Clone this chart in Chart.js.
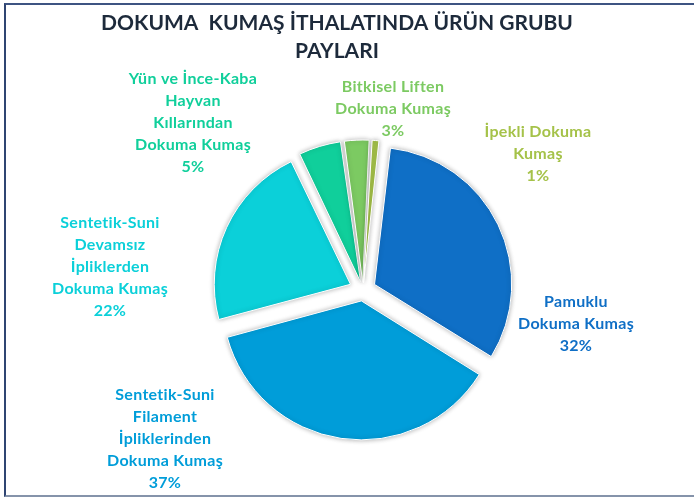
<!DOCTYPE html>
<html>
<head>
<meta charset="utf-8">
<script src="https://cdn.jsdelivr.net/npm/chart.js@4.4.1/dist/chart.umd.min.js"></script>
<style>
  html, body { margin: 0; padding: 0; background: #fff; }
  body { width: 694px; height: 497px; position: relative; overflow: hidden; }
  .frame {
    position: absolute; left: 4px; top: 3px; width: 720px; height: 490px;
    border-left: 2px solid #2f4572; border-top: 2px solid #3d5482; border-bottom: 2px solid #8593aa;
  }
  .chart-box { position: absolute; left: 0; top: 0; width: 694px; height: 497px; }
</style>
</head>
<body>
<div class="chart-box"><canvas class="share-chart"></canvas></div>
<div class="frame"></div>
<script>
const titleLines = ['DOKUMA  KUMAŞ İTHALATINDA ÜRÜN GRUBU', 'PAYLARI'];
const categories = [
    ['Pamuklu', 'Dokuma Kumaş'],
    ['Sentetik-Suni', 'Filament', 'İpliklerinden', 'Dokuma Kumaş'],
    ['Sentetik-Suni', 'Devamsız', 'İpliklerden', 'Dokuma Kumaş'],
    ['Yün ve İnce-Kaba', 'Hayvan', 'Kıllarından', 'Dokuma Kumaş'],
    ['Bitkisel Liften', 'Dokuma Kumaş'],
    ['İpekli Dokuma', 'Kumaş'],
];
const shares = [32, 37, 22, 5, 3, 1];
const colors = ['#0f6fc6', '#009dd9', '#0bd0d9', '#10cf9b', '#7cca62', '#a5c249'];

// label block centres, relative to the pie centre
const labelDx = [213, -198, -253, -170, 30, 175];
const labelDy = [34, 149, -23, -167, -181, -136];
const EXPLODE = 14;

const total = shares.reduce((a, b) => a + b, 0);

// title is not centred over the pie in the original, so draw it here
const chartTitle = {
    id: 'chartTitle',
    afterDraw(chart) {
        const ctx = chart.ctx;
        ctx.save();
        ctx.font = 'bold 21px Lato';
        ctx.fillStyle = '#1d2a3b';
        ctx.textAlign = 'center';
        ctx.textBaseline = 'middle';
        titleLines.forEach((line, k) => ctx.fillText(line, 337, 23 + k * 28));
        ctx.restore();
    }
};

const sliceLabels = {
    id: 'sliceLabels',
    afterDatasetsDraw(chart) {
        const ctx = chart.ctx;
        const arcs = chart.getDatasetMeta(0).data;
        ctx.save();
        ctx.font = 'bold 16px Lato';
        ctx.letterSpacing = '0.3px';
        ctx.textAlign = 'center';
        ctx.textBaseline = 'middle';
        arcs.forEach((arc, i) => {
            const lines = categories[i].concat([shares[i] + '%']);
            const lh = 22;
            ctx.fillStyle = colors[i];
            lines.forEach((line, k) => {
                const y = arc.y + labelDy[i] + (k - (lines.length - 1) / 2) * lh;
                ctx.fillText(line, arc.x + labelDx[i], y);
            });
        });
        ctx.restore();
    }
};

const sliceShadow = {
    id: 'sliceShadow',
    beforeDatasetsDraw(chart) {
        const ctx = chart.ctx;
        ctx.save();
        ctx.shadowColor = 'rgba(0,0,0,0.3)';
        ctx.shadowBlur = 5;
    },
    afterDatasetsDraw(chart) {
        chart.ctx.restore();
    }
};

function createChart() {
    const ctx = document.querySelector('.share-chart').getContext('2d');
    return new Chart(ctx, {
        type: 'pie',
        data: {
            labels: categories.map(c => c.join(' ')),
            datasets: [{
                data: shares,
                backgroundColor: colors,
                borderColor: '#ffffff',
                borderWidth: 1,
                radius: 136,
                // arc.draw moves a slice by offset/4 * (2 - sin(angle)), so undo that
                offset: c => {
                    const circ = shares[c.dataIndex] / total * Math.PI * 2;
                    return EXPLODE * 4 / (2 - Math.sin(Math.min(Math.PI, circ)));
                },
            }]
        },
        options: {
            responsive: true,
            maintainAspectRatio: false,
            animation: false,
            rotation: 6.6,
            layout: { padding: { left: 32, right: 0, top: 83, bottom: 0 } },
            plugins: {
                legend: { display: false },
                tooltip: { enabled: false },
                title: { display: false },
            },
        },
        plugins: [sliceShadow, sliceLabels, chartTitle],
    });
}

createChart();
</script>
</body>
</html>
